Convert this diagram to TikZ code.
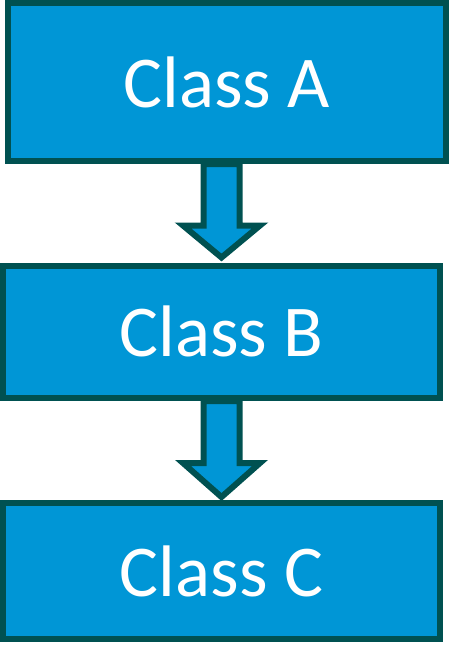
\documentclass[tikz,border=0pt]{standalone}
\usepackage{fontspec}
\setmainfont{Carlito}
\usepackage{tikz}
\usetikzlibrary{calc}

\definecolor{boxfill}{RGB}{0,150,214}
\definecolor{boxline}{RGB}{0,81,81}

\begin{document}
\begin{tikzpicture}[x=1pt, y=-1pt]
		\tikzstyle{ClassBox}	= [rectangle, draw=boxline, fill=boxfill, line width=6pt, inner sep=0pt, text=white, font=\fontsize{73}{73}\selectfont]
		\tikzstyle{BlockArrow}	= [draw=boxline, fill=boxfill, line width=6pt, line join=miter]
		
		\useasboundingbox (0,0) rectangle (449,661);
		
		\node (cA) at (226.75, 82.0) [ClassBox, minimum width=437.5pt, minimum height=158pt] {Class A};
		\node (cB) at (221.5, 331.75) [ClassBox, minimum width=437pt, minimum height=132.5pt] {Class B};
		\node (cC) at (221.5, 571.0) [ClassBox, minimum width=437pt, minimum height=136pt] {Class C};
		
		\draw [BlockArrow] ($(cA.south -| cB.north)+(-18,0)$) -- ($(cB.north)+(-18,-37)$) -- ($(cB.north)+(-38.5,-37)$) -- ($(cB.north)+(0,-5)$) -- ($(cB.north)+(38.5,-37)$) -- ($(cB.north)+(18,-37)$) -- ($(cA.south -| cB.north)+(18,0)$) -- cycle;
		\draw [BlockArrow] ($(cB.south -| cC.north)+(-18,0)$) -- ($(cC.north)+(-18,-37)$) -- ($(cC.north)+(-38.5,-37)$) -- ($(cC.north)+(0,-3)$) -- ($(cC.north)+(38.5,-37)$) -- ($(cC.north)+(18,-37)$) -- ($(cB.south -| cC.north)+(18,0)$) -- cycle;
	\end{tikzpicture}
\end{document}
